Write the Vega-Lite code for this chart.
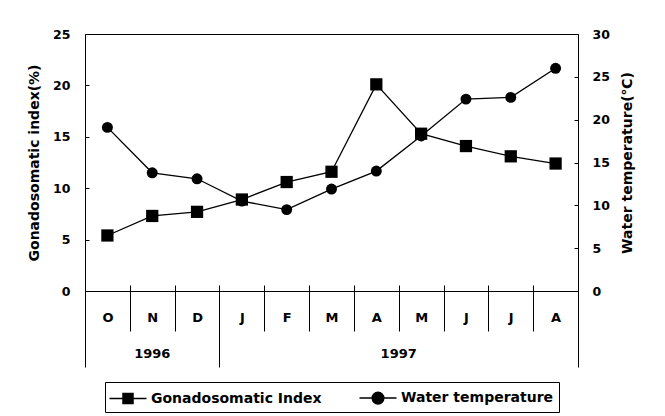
{
  "$schema": "https://vega.github.io/schema/vega-lite/v6.json",
  "width": 493,
  "height": 257,
  "autosize": {"type": "none"},
  "padding": {"left": 85, "top": 34, "right": 87, "bottom": 125},
  "background": "white",
  "data": {
    "values": [
      {"month": "Oct 1996", "series": "Gonadosomatic Index", "value": 5.4},
      {"month": "Nov 1996", "series": "Gonadosomatic Index", "value": 7.3},
      {"month": "Dec 1996", "series": "Gonadosomatic Index", "value": 7.7},
      {"month": "Jan 1997", "series": "Gonadosomatic Index", "value": 8.9},
      {"month": "Feb 1997", "series": "Gonadosomatic Index", "value": 10.6},
      {"month": "Mar 1997", "series": "Gonadosomatic Index", "value": 11.6},
      {"month": "Apr 1997", "series": "Gonadosomatic Index", "value": 20.1},
      {"month": "May 1997", "series": "Gonadosomatic Index", "value": 15.3},
      {"month": "Jun 1997", "series": "Gonadosomatic Index", "value": 14.1},
      {"month": "Jul 1997", "series": "Gonadosomatic Index", "value": 13.1},
      {"month": "Aug 1997", "series": "Gonadosomatic Index", "value": 12.4},
      {"month": "Oct 1996", "series": "Water temperature", "value": 19.1},
      {"month": "Nov 1996", "series": "Water temperature", "value": 13.8},
      {"month": "Dec 1996", "series": "Water temperature", "value": 13.1},
      {"month": "Jan 1997", "series": "Water temperature", "value": 10.5},
      {"month": "Feb 1997", "series": "Water temperature", "value": 9.5},
      {"month": "Mar 1997", "series": "Water temperature", "value": 11.9},
      {"month": "Apr 1997", "series": "Water temperature", "value": 14.0},
      {"month": "May 1997", "series": "Water temperature", "value": 18.1},
      {"month": "Jun 1997", "series": "Water temperature", "value": 22.4},
      {"month": "Jul 1997", "series": "Water temperature", "value": 22.6},
      {"month": "Aug 1997", "series": "Water temperature", "value": 26.0}
    ]
  },
  "layer": [
    {
      "transform": [{"filter": "datum.series === 'Gonadosomatic Index'"}],
      "mark": {"type": "line", "strokeWidth": 1.3},
      "encoding": {
        "x": {
          "field": "month", "type": "nominal", "sort": null, "bandPosition": 0.5,
          "scale": {"type": "band", "paddingInner": 0, "paddingOuter": 0},
          "axis": {
            "orient": "bottom", "title": null, "grid": false,
            "tickBand": "extent",
            "tickSize": {"condition": {"test": "datum.index < 0 || datum.value === 'Dec 1996' || datum.value === 'Aug 1997'", "value": 76}, "value": 40},
            "labelPadding": {"condition": {"test": "datum.value === 'Dec 1996' || datum.value === 'Aug 1997'", "value": -55.5}, "value": -19.5},
            "tickColor": "black", "tickWidth": 1,
            "domain": true, "domainColor": "black", "domainWidth": 1,
            "labelExpr": "slice(datum.label, 0, 1)",
            "labelAngle": 0,
            "labelFont": "DejaVu Sans", "labelFontWeight": "bold", "labelFontSize": 13, "labelColor": "black"
          }
        },
        "y": {
          "field": "value", "type": "quantitative",
          "scale": {"domain": [0, 25], "nice": false, "zero": true},
          "axis": {
            "orient": "left", "values": [0, 5, 10, 15, 20, 25],
            "tickSize": -4, "tickColor": "black", "domain": false, "grid": false,
            "labelPadding": 19,
            "labelFont": "DejaVu Sans", "labelFontWeight": "bold", "labelFontSize": 12.5, "labelColor": "black",
            "title": "Gonadosomatic index(%)",
            "titleFont": "DejaVu Sans", "titleFontSize": 14, "titleFontWeight": "bold", "titleColor": "black",
            "titlePadding": 11
          }
        },
        "color": {
          "field": "series", "type": "nominal",
          "scale": {"domain": ["Gonadosomatic Index", "Water temperature"], "range": ["black", "black"]},
          "legend": {
            "orient": "none", "legendX": 20, "legendY": 348,
            "direction": "horizontal", "title": null,
            "strokeColor": "black", "padding": 5,
            "columnPadding": 34,
            "symbolSize": 400, "symbolOffset": 7, "labelOffset": 12, "labelLimit": 400,
            "labelFont": "DejaVu Sans", "labelFontWeight": "bold", "labelFontSize": 14, "labelColor": "black",
            "encode": {
              "symbols": {
                "update": {
                  "shape": {"signal": "datum.value === 'Gonadosomatic Index' ? 'M-1.85,0H1.85M-0.5,-0.5H0.5V0.5H-0.5Z' : 'M-1.85,0H1.85M0.58,0A0.58,0.58,0,1,1,-0.58,0A0.58,0.58,0,1,1,0.58,0Z'"},
                  "fill": {"value": "black"},
                  "stroke": {"value": "black"},
                  "strokeWidth": {"value": 1.5},
                  "opacity": {"value": 1}
                }
              }
            }
          }
        }
      }
    },
    {
      "transform": [{"filter": "datum.series === 'Gonadosomatic Index'"}],
      "mark": {"type": "point", "shape": "square", "filled": true, "size": 150, "color": "black", "opacity": 1},
      "encoding": {
        "x": {
          "field": "month", "type": "nominal", "sort": null, "bandPosition": 0.5,
          "scale": {"type": "band", "paddingInner": 0, "paddingOuter": 0},
          "axis": {
            "orient": "bottom", "title": null, "grid": false,
            "tickBand": "extent", "tickSize": -6, "tickColor": "black",
            "labels": false, "domain": false
          }
        },
        "y": {
          "field": "value", "type": "quantitative",
          "scale": {"domain": [0, 25], "nice": false, "zero": true},
          "axis": null
        }
      }
    },
    {
      "transform": [{"filter": "datum.series === 'Water temperature'"}],
      "mark": {"type": "line", "strokeWidth": 1.3},
      "encoding": {
        "x": {
          "field": "month", "type": "nominal", "sort": null, "bandPosition": 0.5,
          "scale": {"type": "band", "paddingInner": 0, "paddingOuter": 0},
          "axis": {
            "orient": "bottom", "title": null, "grid": false,
            "values": ["Nov 1996", "Apr 1997"],
            "ticks": false, "tickSize": 0, "domain": false,
            "labelExpr": "datum.value === 'Nov 1996' ? '1996' : '1997'",
            "labelOffset": {"condition": {"test": "datum.value === 'Apr 1997'", "value": 22.4}, "value": 0},
            "labelPadding": 56.5, "labelAngle": 0,
            "labelFont": "DejaVu Sans", "labelFontWeight": "bold", "labelFontSize": 13, "labelColor": "black"
          }
        },
        "y": {
          "field": "value", "type": "quantitative",
          "scale": {"domain": [0, 30], "nice": false, "zero": true},
          "axis": {
            "orient": "right", "values": [0, 5, 10, 15, 20, 25, 30],
            "tickSize": -4, "tickColor": "black", "domain": false, "grid": false,
            "labelPadding": 18,
            "labelFont": "DejaVu Sans", "labelFontWeight": "bold", "labelFontSize": 12.5, "labelColor": "black",
            "title": "Water temperature(℃)",
            "titleAngle": 270, "titleBaseline": "top",
            "titleFont": "DejaVu Sans", "titleFontSize": 14, "titleFontWeight": "bold", "titleColor": "black",
            "titlePadding": 11
          }
        },
        "color": {
          "field": "series", "type": "nominal",
          "scale": {"domain": ["Gonadosomatic Index", "Water temperature"], "range": ["black", "black"]}
        }
      }
    },
    {
      "transform": [{"filter": "datum.series === 'Water temperature'"}],
      "mark": {"type": "point", "shape": "circle", "filled": true, "size": 120, "color": "black", "opacity": 1},
      "encoding": {
        "x": {
          "field": "month", "type": "nominal", "sort": null, "bandPosition": 0.5,
          "scale": {"type": "band", "paddingInner": 0, "paddingOuter": 0},
          "axis": null
        },
        "y": {
          "field": "value", "type": "quantitative",
          "scale": {"domain": [0, 30], "nice": false, "zero": true},
          "axis": null
        }
      }
    }
  ],
  "resolve": {
    "scale": {"y": "independent"},
    "axis": {"x": "independent", "y": "independent"}
  },
  "config": {
    "view": {"stroke": "black", "strokeWidth": 1},
    "font": "DejaVu Sans"
  }
}
